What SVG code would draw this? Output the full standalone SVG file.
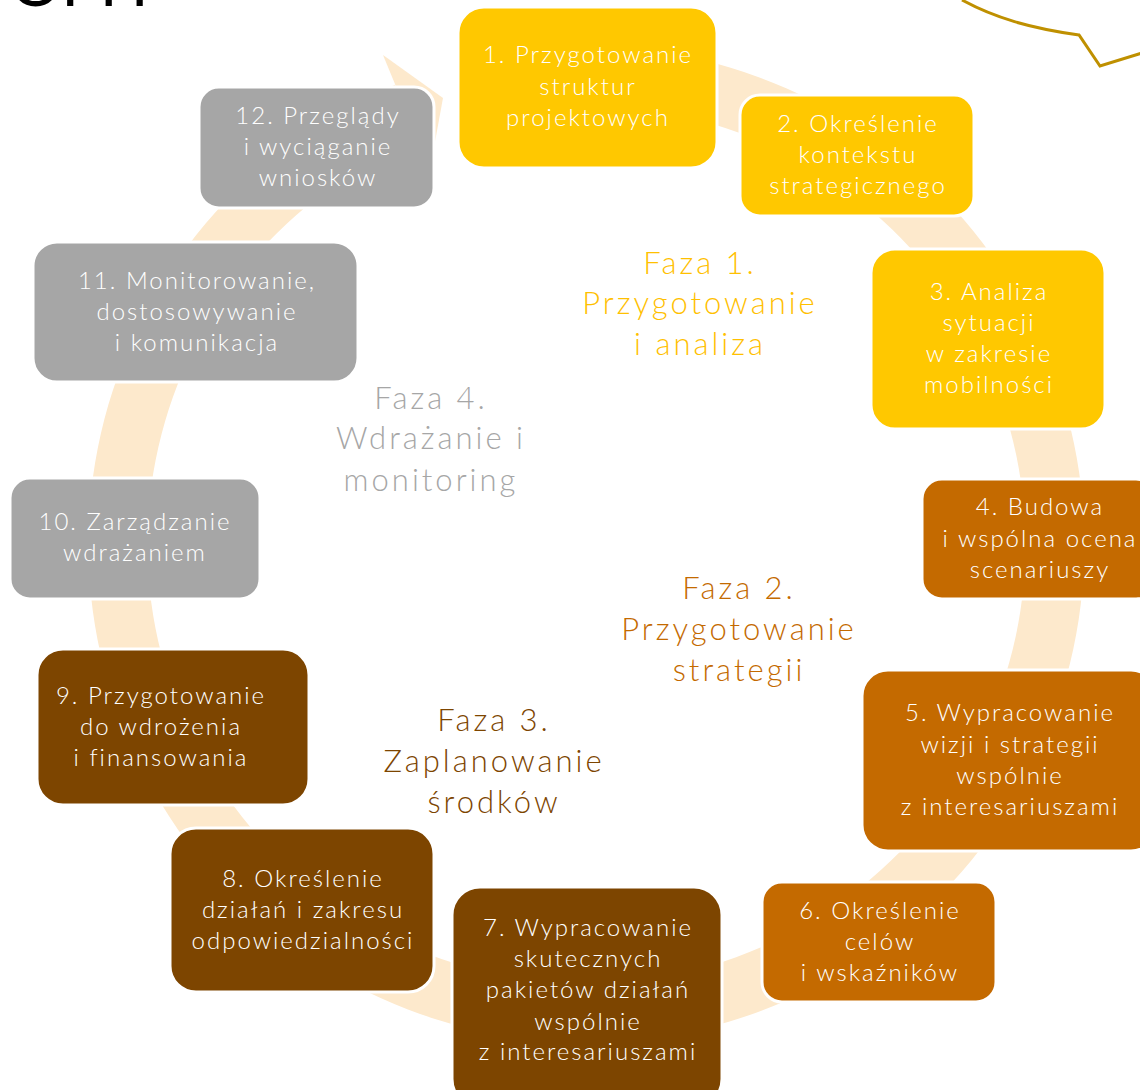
<svg xmlns="http://www.w3.org/2000/svg" width="1140" height="1090" viewBox="0 0 1140 1090">
<style>
.box{stroke:#fff;stroke-width:3}
.y{fill:#FFC800}.o{fill:#C46A00}.b{fill:#7D4500}.g{fill:#A6A6A6}
.t{font-family:Lato,"Liberation Sans",sans-serif;font-weight:300;font-size:24px;letter-spacing:2px;fill:#fff;text-anchor:middle}
.p{font-family:Lato,"Liberation Sans",sans-serif;font-weight:300;font-size:31px;letter-spacing:3px;text-anchor:middle}
</style>
<rect width="1140" height="1090" fill="#fff"/>
<text x="10" y="6" font-family="Lato,'Liberation Sans',sans-serif" font-size="64" fill="#000">OPH</text>
<path d="M962,0 C995,18 1030,28 1079,35 L1100,66 L1142,53" fill="none" stroke="#BF9000" stroke-width="3"/>
<g id="connectors">
<path d="M673.0,54.1 A498 498 0 1 1 395.1,84.7 L417.8,139.2 A439 439 0 1 0 662.7,112.2 Z" fill="#FDE9CC"/>
<polygon points="383,55 443,98 430,169" fill="#FDE9CC"/>
</g>
<g id="n1"><rect class="box y" x="458" y="7" width="259" height="161" rx="26"/>
<text class="t"><tspan x="588" y="63">1. Przygotowanie</tspan><tspan x="588" y="95">struktur</tspan><tspan x="588" y="126">projektowych</tspan></text></g>
<g id="n2"><rect class="box y" x="740" y="95" width="234" height="121" rx="20"/>
<text class="t"><tspan x="858" y="132">2. Określenie</tspan><tspan x="858" y="163">kontekstu</tspan><tspan x="858" y="194">strategicznego</tspan></text></g>
<g id="n3"><rect class="box y" x="871" y="249" width="234" height="180" rx="24"/>
<text class="t"><tspan x="989" y="300">3. Analiza</tspan><tspan x="989" y="331">sytuacji</tspan><tspan x="989" y="362">w zakresie</tspan><tspan x="989" y="393">mobilności</tspan></text></g>
<g id="n4"><rect class="box o" x="922" y="479" width="234" height="120" rx="20"/>
<text class="t"><tspan x="1040" y="515">4. Budowa</tspan><tspan x="1040" y="547">i wspólna ocena</tspan><tspan x="1040" y="578">scenariuszy</tspan></text></g>
<g id="n5"><rect class="box o" x="862" y="670" width="295" height="181" rx="26"/>
<text class="t"><tspan x="1010" y="721">5. Wypracowanie</tspan><tspan x="1010" y="753">wizji i strategii</tspan><tspan x="1010" y="784">wspólnie</tspan><tspan x="1010" y="815">z interesariuszami</tspan></text></g>
<g id="n6"><rect class="box o" x="762" y="882" width="234" height="120" rx="20"/>
<text class="t"><tspan x="880" y="919">6. Określenie</tspan><tspan x="880" y="950">celów</tspan><tspan x="880" y="981">i wskaźników</tspan></text></g>
<g id="n7"><rect class="box b" x="452" y="887" width="270" height="220" rx="28"/>
<text class="t"><tspan x="588" y="936">7. Wypracowanie</tspan><tspan x="588" y="967">skutecznych</tspan><tspan x="588" y="998">pakietów działań</tspan><tspan x="588" y="1030">wspólnie</tspan><tspan x="588" y="1060">z interesariuszami</tspan></text></g>
<g id="n8"><rect class="box b" x="170" y="828" width="264" height="164" rx="26"/>
<text class="t"><tspan x="303" y="887">8. Określenie</tspan><tspan x="303" y="918">działań i zakresu</tspan><tspan x="303" y="949">odpowiedzialności</tspan></text></g>
<g id="n9"><rect class="box b" x="37" y="649" width="272" height="156" rx="26"/>
<text class="t"><tspan x="161" y="704">9. Przygotowanie</tspan><tspan x="161" y="735">do wdrożenia</tspan><tspan x="161" y="766">i finansowania</tspan></text></g>
<g id="n10"><rect class="box g" x="10" y="478" width="250" height="121" rx="20"/>
<text class="t"><tspan x="135" y="530">10. Zarządzanie</tspan><tspan x="135" y="561">wdrażaniem</tspan></text></g>
<g id="n11"><rect class="box g" x="33" y="242" width="325" height="140" rx="24"/>
<text class="t"><tspan x="197" y="289">11. Monitorowanie,</tspan><tspan x="197" y="320">dostosowywanie</tspan><tspan x="197" y="351">i komunikacja</tspan></text></g>
<g id="n12"><rect class="box g" x="199" y="87" width="235" height="121" rx="20"/>
<text class="t"><tspan x="318" y="124">12. Przeglądy</tspan><tspan x="318" y="155">i wyciąganie</tspan><tspan x="318" y="186">wniosków</tspan></text></g>
<g id="phase1"><text class="p" fill="#FFC000"><tspan x="700" y="274">Faza 1.</tspan><tspan x="700" y="314">Przygotowanie</tspan><tspan x="700" y="355">i analiza</tspan></text></g>
<g id="phase4"><text class="p" fill="#A6A6A6"><tspan x="431" y="409">Faza 4.</tspan><tspan x="431" y="449">Wdrażanie i</tspan><tspan x="431" y="491">monitoring</tspan></text></g>
<g id="phase2"><text class="p" fill="#C46A00"><tspan x="739" y="599">Faza 2.</tspan><tspan x="739" y="640">Przygotowanie</tspan><tspan x="739" y="681">strategii</tspan></text></g>
<g id="phase3"><text class="p" fill="#7D4500"><tspan x="494" y="731">Faza 3.</tspan><tspan x="494" y="772">Zaplanowanie</tspan><tspan x="494" y="813">środków</tspan></text></g>
</svg>
